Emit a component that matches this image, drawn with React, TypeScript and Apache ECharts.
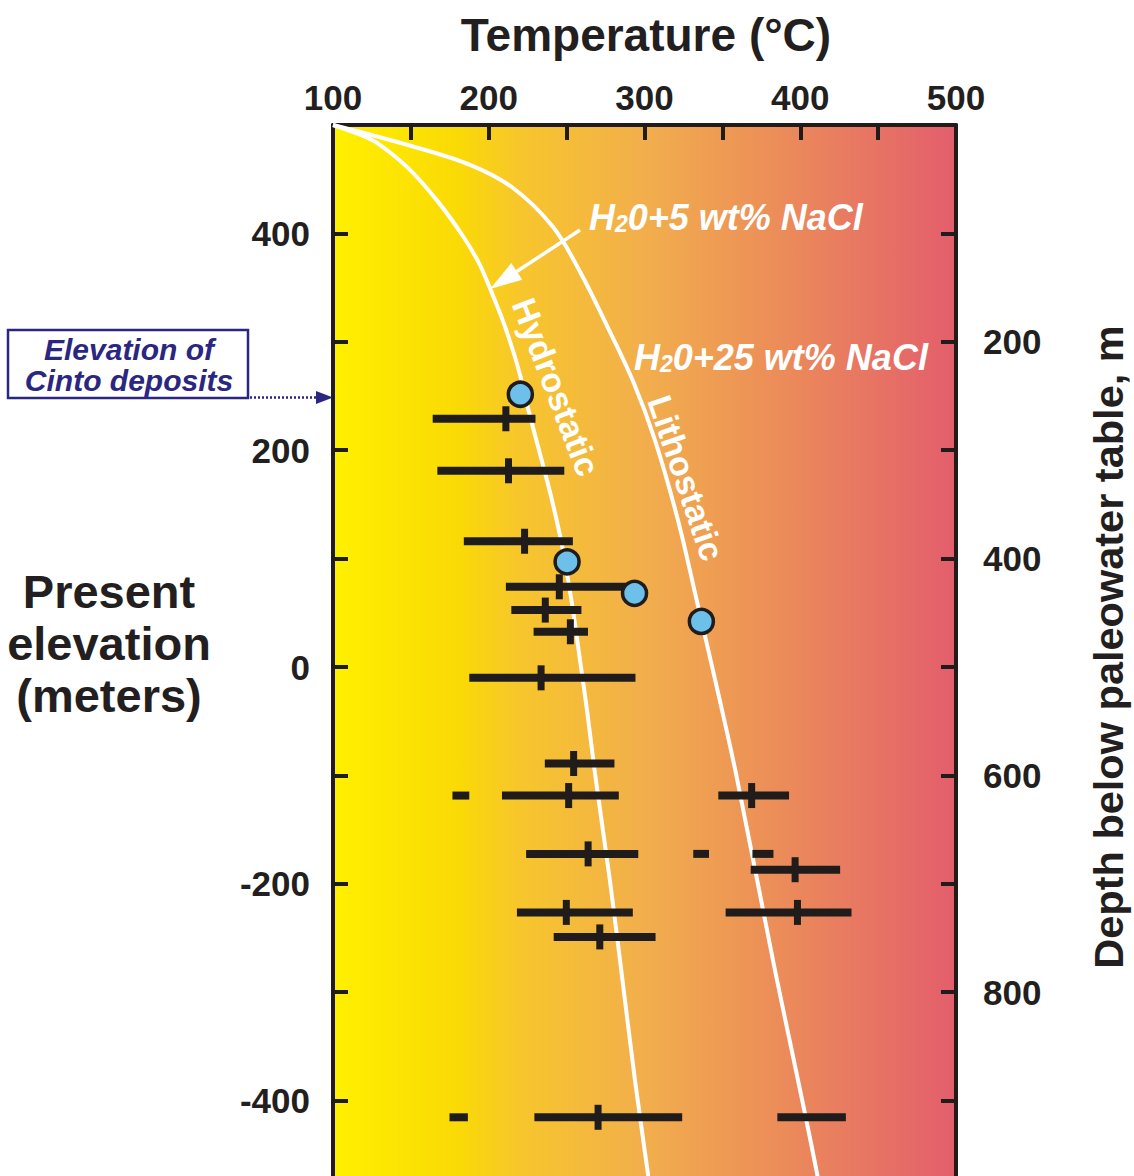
import React, { useEffect, useRef } from "react";
import * as echarts from "echarts";

const FONT = '"Liberation Sans", Arial, Helvetica, sans-serif';
const INK = "#1f1c1b";
const NAVY = "#2b2781";

// Temperature axis (°C) and elevation axis (m)
const tempTicks = [100, 150, 200, 250, 300, 350, 400, 450, 500];
const elevLabels = [400, 200, 0, -200, -400];
const depthLabels = [200, 400, 600, 800];

// Boiling-point curves (temperature, elevation)
const hydroTemp = [100, 125.7, 147.3, 166.6, 183.7, 194.4, 200.8, 209.3, 215.8, 220.1, 225.2, 232.3, 237.4, 240.6, 246.4, 250.2, 254.1, 258.6, 263.1, 268.2, 277.8, 284.3, 293.9, 302.2, 305];
const hydroElev = [500, 485.8, 461.6, 430.7, 396.9, 370.8, 349.3, 318.5, 290.8, 269.3, 238.8, 200, 172.3, 153.9, 117, 86.5, 52.3, 6.2, -40, -98.1, -196.9, -270.7, -381.5, -467.4, -500];
const lithoTemp = [100, 151.4, 188.0, 215.6, 241.3, 258.6, 275.7, 292.8, 306.7, 321.5, 333.5, 346.4, 359.2, 382.5, 410.8, 413.5];
const lithoElev = [500, 480.2, 463.2, 441.9, 405.9, 364.6, 315.4, 263.1, 209.3, 135.4, 61.6, -18.5, -101.5, -270.7, -467.4, -500];

// Fluid-inclusion temperature ranges with a central value
const rangeElev = [229, 181, 116, 74, 52.5, 32.5, -10, -89, -118.6, -118.6, -172.4, -187, -226.4, -226.4, -249, -415.4];
const rangeLow = [164, 167, 184, 211, 214.5, 228.8, 187.5, 236, 208.5, 347.4, 224, 368.2, 218.1, 352.1, 241.7, 229.3];
const rangeHigh = [230, 248.5, 254, 293, 259.5, 263.7, 294.2, 280.7, 283.5, 392.8, 296, 425.6, 292.5, 432.9, 307.1, 324.2];
const rangeMid = [211, 212.7, 223, 245.3, 236.3, 252.4, 233.6, 254.5, 251.3, 368.8, 263.8, 396.7, 249.8, 398.2, 271.3, 270.2];

// Ranges without a central value
const dashElev = [-118.6, -172.4, -172.4, -415.4, -415.4];
const dashLow = [176.7, 331.3, 369.3, 174.8, 385.3];
const dashHigh = [187.5, 341.4, 382.8, 186.6, 429.3];

// Single measurements (circles)
const pointTemp = [220.3, 250.3, 293.6, 336.5];
const pointElev = [251.6, 97, 68, 42];

function zip(a: number[], b: number[]) {
  return a.map((v, i) => [v, b[i]]);
}

export default function App() {
  const ref = useRef<HTMLDivElement>(null);

  useEffect(() => {
    if (!ref.current) return;
    const chart = echarts.init(ref.current, null, { renderer: "svg" });

    const labelStyle = {
      fontFamily: FONT,
      fontWeight: "bold" as const,
      fontSize: 35,
      color: "#231f20",
    };

    const rangeRender = (withMid: boolean) => (params: any, api: any) => {
      const y = api.value(0);
      const p1 = api.coord([api.value(1), y]);
      const p2 = api.coord([api.value(2), y]);
      const children: any[] = [
        {
          type: "line",
          shape: { x1: p1[0], y1: p1[1], x2: p2[0], y2: p2[1] },
          style: { stroke: INK, lineWidth: 8, lineCap: "butt" },
        },
      ];
      if (withMid) {
        const pm = api.coord([api.value(3), y]);
        children.push({
          type: "line",
          shape: { x1: pm[0], y1: pm[1] - 12.5, x2: pm[0], y2: pm[1] + 12.5 },
          style: { stroke: INK, lineWidth: 7, lineCap: "butt" },
        });
      }
      return { type: "group", children };
    };

    const gradient = new echarts.graphic.LinearGradient(0, 0, 1, 0, [
      { offset: 0, color: "#FFF000" },
      { offset: 0.2, color: "#FADA05" },
      { offset: 0.3, color: "#F7C62C" },
      { offset: 0.5, color: "#F2AE4C" },
      { offset: 0.7, color: "#EC8F58" },
      { offset: 0.86, color: "#E77563" },
      { offset: 1, color: "#E35E6C" },
    ]);

    const tipX = 490, tipY = 289, startX = 580, startY = 230;
    const dx = tipX - startX, dy = tipY - startY;
    const len = Math.hypot(dx, dy);
    const ux = dx / len, uy = dy / len;
    const headL = 32, headW = 10;
    const bx = tipX - ux * headL, by = tipY - uy * headL;

    const h2oRich = {
      n: { fill: "#fff", fontFamily: FONT, fontWeight: "bold", fontStyle: "italic", fontSize: 36 },
      s: { fill: "#fff", fontFamily: FONT, fontWeight: "bold", fontStyle: "italic", fontSize: 23, verticalAlign: "bottom" },
    };

    const axisCommon = {
      axisLine: { onZero: false, lineStyle: { color: INK, width: 4 } },
      axisTick: { inside: true, length: 15, lineStyle: { color: INK, width: 4 } },
      splitLine: { show: false },
    };

    const option: any = {
      animation: false,
      backgroundColor: "#ffffff",
      grid: {
        left: 333,
        right: 178,
        top: 125,
        bottom: 0,
        show: true,
        backgroundColor: gradient,
        borderWidth: 0,
      },
      xAxis: {
        type: "value",
        position: "top",
        min: tempTicks[0],
        max: tempTicks[tempTicks.length - 1],
        interval: 50,
        ...axisCommon,
        axisLabel: {
          ...labelStyle,
          margin: 10,
          formatter: (v: number) => (v % 100 === 0 ? String(v) : ""),
        },
      },
      yAxis: [
        {
          type: "value",
          position: "left",
          min: -500,
          max: 500,
          interval: 100,
          ...axisCommon,
          axisLabel: {
            ...labelStyle,
            margin: 23,
            formatter: (v: number) => (elevLabels.includes(v) ? String(v) : ""),
          },
        },
        {
          type: "value",
          position: "right",
          min: 0,
          max: 1000,
          interval: 100,
          inverse: true,
          ...axisCommon,
          axisLabel: {
            ...labelStyle,
            margin: 27,
            formatter: (v: number) => (depthLabels.includes(v) ? String(v) : ""),
          },
        },
      ],
      series: [
        {
          type: "line",
          name: "Hydrostatic",
          data: zip(hydroTemp, hydroElev),
          smooth: 0.25,
          showSymbol: false,
          lineStyle: { color: "#ffffff", width: 4 },
          z: 1,
          silent: true,
        },
        {
          type: "line",
          name: "Lithostatic",
          data: zip(lithoTemp, lithoElev),
          smooth: 0.35,
          showSymbol: false,
          lineStyle: { color: "#ffffff", width: 4 },
          z: 1,
          silent: true,
        },
        {
          type: "custom",
          name: "ranges",
          renderItem: rangeRender(true),
          dimensions: ["elev", "lo", "hi", "mid"],
          encode: { x: [1, 2, 3], y: 0 },
          data: rangeElev.map((e, i) => [e, rangeLow[i], rangeHigh[i], rangeMid[i]]),
          z: 3,
        },
        {
          type: "custom",
          name: "dashes",
          renderItem: rangeRender(false),
          dimensions: ["elev", "lo", "hi"],
          encode: { x: [1, 2], y: 0 },
          data: dashElev.map((e, i) => [e, dashLow[i], dashHigh[i]]),
          z: 3,
        },
        {
          type: "scatter",
          name: "points",
          data: zip(pointTemp, pointElev),
          symbol: "circle",
          symbolSize: 24,
          itemStyle: { color: "#6cc0ea", borderColor: INK, borderWidth: 3.5, opacity: 1 },
          z: 4,
        },
      ],
      graphic: [
        {
          type: "text",
          x: 646,
          y: 35,
          style: {
            text: "Temperature (°C)",
            fill: "#231f20",
            fontFamily: FONT,
            fontWeight: "bold",
            fontSize: 46,
            textAlign: "center",
            textVerticalAlign: "middle",
          },
        },
        {
          type: "text",
          x: 109,
          y: 643,
          style: {
            text: "Present\nelevation\n(meters)",
            fill: "#231f20",
            fontFamily: FONT,
            fontWeight: "bold",
            fontSize: 47,
            lineHeight: 52,
            textAlign: "center",
            textVerticalAlign: "middle",
          },
        },
        {
          type: "text",
          x: 1108,
          y: 647,
          rotation: Math.PI / 2,
          style: {
            text: "Depth below paleowater table, m",
            fill: "#231f20",
            fontFamily: FONT,
            fontWeight: "bold",
            fontSize: 41.5,
            textAlign: "center",
            textVerticalAlign: "middle",
          },
        },
        {
          type: "rect",
          shape: { x: 8, y: 330, width: 240, height: 68 },
          style: { fill: "#ffffff", stroke: NAVY, lineWidth: 2.5 },
        },
        {
          type: "text",
          x: 129,
          y: 365,
          style: {
            text: "Elevation of\nCinto deposits",
            fill: NAVY,
            fontFamily: FONT,
            fontWeight: "bold",
            fontStyle: "italic",
            fontSize: 30,
            lineHeight: 31,
            textAlign: "center",
            textVerticalAlign: "middle",
          },
        },
        {
          type: "line",
          shape: { x1: 250, y1: 397.5, x2: 318, y2: 397.5 },
          style: { stroke: NAVY, lineWidth: 2.5, lineDash: [2, 2] },
        },
        {
          type: "polygon",
          shape: { points: [[333, 397.5], [316, 391], [316, 404]] },
          style: { fill: NAVY },
        },
        {
          type: "text",
          x: 589,
          y: 217,
          style: {
            text: "{n|H}{s|2}{n|0+5 wt% NaCl}",
            textVerticalAlign: "middle",
            rich: h2oRich,
          },
          z: 10,
        },
        {
          type: "text",
          x: 634,
          y: 357,
          style: {
            text: "{n|H}{s|2}{n|0+25 wt% NaCl}",
            textVerticalAlign: "middle",
            rich: h2oRich,
          },
          z: 10,
        },
        {
          type: "line",
          shape: { x1: startX, y1: startY, x2: bx, y2: by },
          style: { stroke: "#ffffff", lineWidth: 3.5 },
          z: 10,
        },
        {
          type: "polygon",
          shape: {
            points: [
              [tipX, tipY],
              [bx - uy * headW, by + ux * headW],
              [bx + uy * headW, by - ux * headW],
            ],
          },
          style: { fill: "#ffffff" },
          z: 10,
        },
        {
          type: "text",
          x: 556,
          y: 387,
          rotation: -1.203,
          style: {
            text: "Hydrostatic",
            fill: "#ffffff",
            fontFamily: FONT,
            fontWeight: "bold",
            fontSize: 34,
            textAlign: "center",
            textVerticalAlign: "middle",
          },
          z: 10,
        },
        {
          type: "text",
          x: 686,
          y: 478,
          rotation: -1.243,
          style: {
            text: "Lithostatic",
            fill: "#ffffff",
            fontFamily: FONT,
            fontWeight: "bold",
            fontSize: 34,
            textAlign: "center",
            textVerticalAlign: "middle",
          },
          z: 10,
        },
      ],
    };

    chart.setOption(option);
    return () => chart.dispose();
  }, []);

  return (
    <div
      style={{
        position: "fixed",
        left: 0,
        top: 0,
        width: 1134,
        height: 1176,
        overflow: "hidden",
        background: "#ffffff",
      }}
    >
      <div ref={ref} style={{ width: 1134, height: 1209 }} />
    </div>
  );
}
